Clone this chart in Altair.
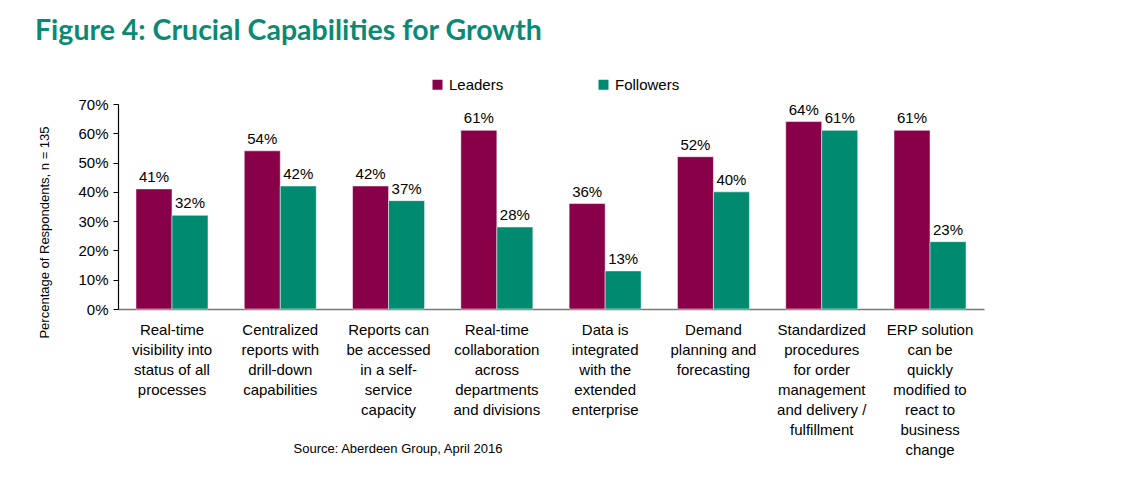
import altair as alt
import pandas as pd

categories = [
    "Real-time|visibility into|status of all|processes",
    "Centralized|reports with|drill-down|capabilities",
    "Reports can|be accessed|in a self-|service|capacity",
    "Real-time|collaboration|across|departments|and divisions",
    "Data is|integrated|with the|extended|enterprise",
    "Demand|planning and|forecasting",
    "Standardized|procedures|for order|management|and delivery /|fulfillment",
    "ERP solution|can be|quickly|modified to|react to|business|change",
]
leaders = [0.41, 0.54, 0.42, 0.61, 0.36, 0.52, 0.64, 0.61]
followers = [0.32, 0.42, 0.37, 0.28, 0.13, 0.40, 0.61, 0.23]
series = ["Leaders", "Followers"]
colors = ["#880047", "#008A70"]
y_ticks = [0, 0.1, 0.2, 0.3, 0.4, 0.5, 0.6, 0.7]

rows = []
for c, l, f in zip(categories, leaders, followers):
    rows.append({"cat": c, "series": "Leaders", "value": l})
    rows.append({"cat": c, "series": "Followers", "value": f})
df = pd.DataFrame(rows)

FONT = "Liberation Sans"

x = alt.X(
    "cat:N",
    sort=categories,
    scale=alt.Scale(paddingInner=0.335, paddingOuter=0.166),
    axis=alt.Axis(
        title="Source: Aberdeen Group, April 2016",
        titleFont=FONT, titleFontSize=13, titleFontWeight="normal", titleColor="#000",
        titleAnchor="start", titleAlign="left", titleX=175, titleY=133, titleBaseline="top",
        labelExpr="split(datum.label, '|')",
        labelFont=FONT, labelFontSize=15, labelColor="#000", labelLineHeight=20,
        labelAngle=0, labelBaseline="top", labelPadding=13, labelLimit=0,
        ticks=False, domainColor="#777", domainWidth=1.5,
    ),
)
y = alt.Y(
    "value:Q",
    scale=alt.Scale(domain=[0, 0.7], nice=False),
    axis=alt.Axis(
        values=y_ticks, format=".0%", grid=False,
        title="Percentage of Respondents, n = 135",
        titleFont=FONT, titleFontSize=13, titleFontWeight="normal", titleColor="#000",
        titleX=-67, titleY=128, titleAlign="center", titleAngle=-90,
        labelFont=FONT, labelFontSize=15, labelColor="#000", labelPadding=5,
        tickSize=5, tickColor="#000", domainColor="#000", domainWidth=1.2,
    ),
)

base = alt.Chart(df).encode(
    x=x,
    y=y,
    xOffset=alt.XOffset("series:N", sort=series, scale=alt.Scale(domain=series, paddingInner=0)),
)

bars = base.mark_bar(stroke="#ffffff", strokeWidth=0.5).encode(
    color=alt.Color(
        "series:N",
        sort=series,
        scale=alt.Scale(domain=series, range=colors),
        legend=alt.Legend(
            title=None, orient="none", direction="horizontal",
            legendX=312, legendY=-27,
            symbolType="square", symbolSize=100, symbolStrokeWidth=0,
            labelFont=FONT, labelFontSize=15, labelColor="#000",
            columnPadding=92, symbolOffset=0, labelOffset=4,
        ),
    )
)
text = base.mark_text(baseline="bottom", dy=-4, font=FONT, fontSize=15, color="#000").encode(
    text=alt.Text("value:Q", format=".0%")
)

chart = (
    alt.layer(bars, text)
    .properties(
        width=866,
        height=205,
        autosize=alt.AutoSizeParams(type="none"),
        padding={"left": 110, "top": 96, "right": 30, "bottom": 170},
        title=alt.TitleParams(
            "Figure 4: Crucial Capabilities for Growth",
            anchor="start", frame="group", dx=-83, offset=32,
            font="Lato", fontSize=28.5, fontWeight="bold", color="#0A8A74",
            limit=900,
        ),
    )
    .configure_view(stroke=None)
)

chart.save("out.html", embed_options={"renderer": "svg", "actions": False})
